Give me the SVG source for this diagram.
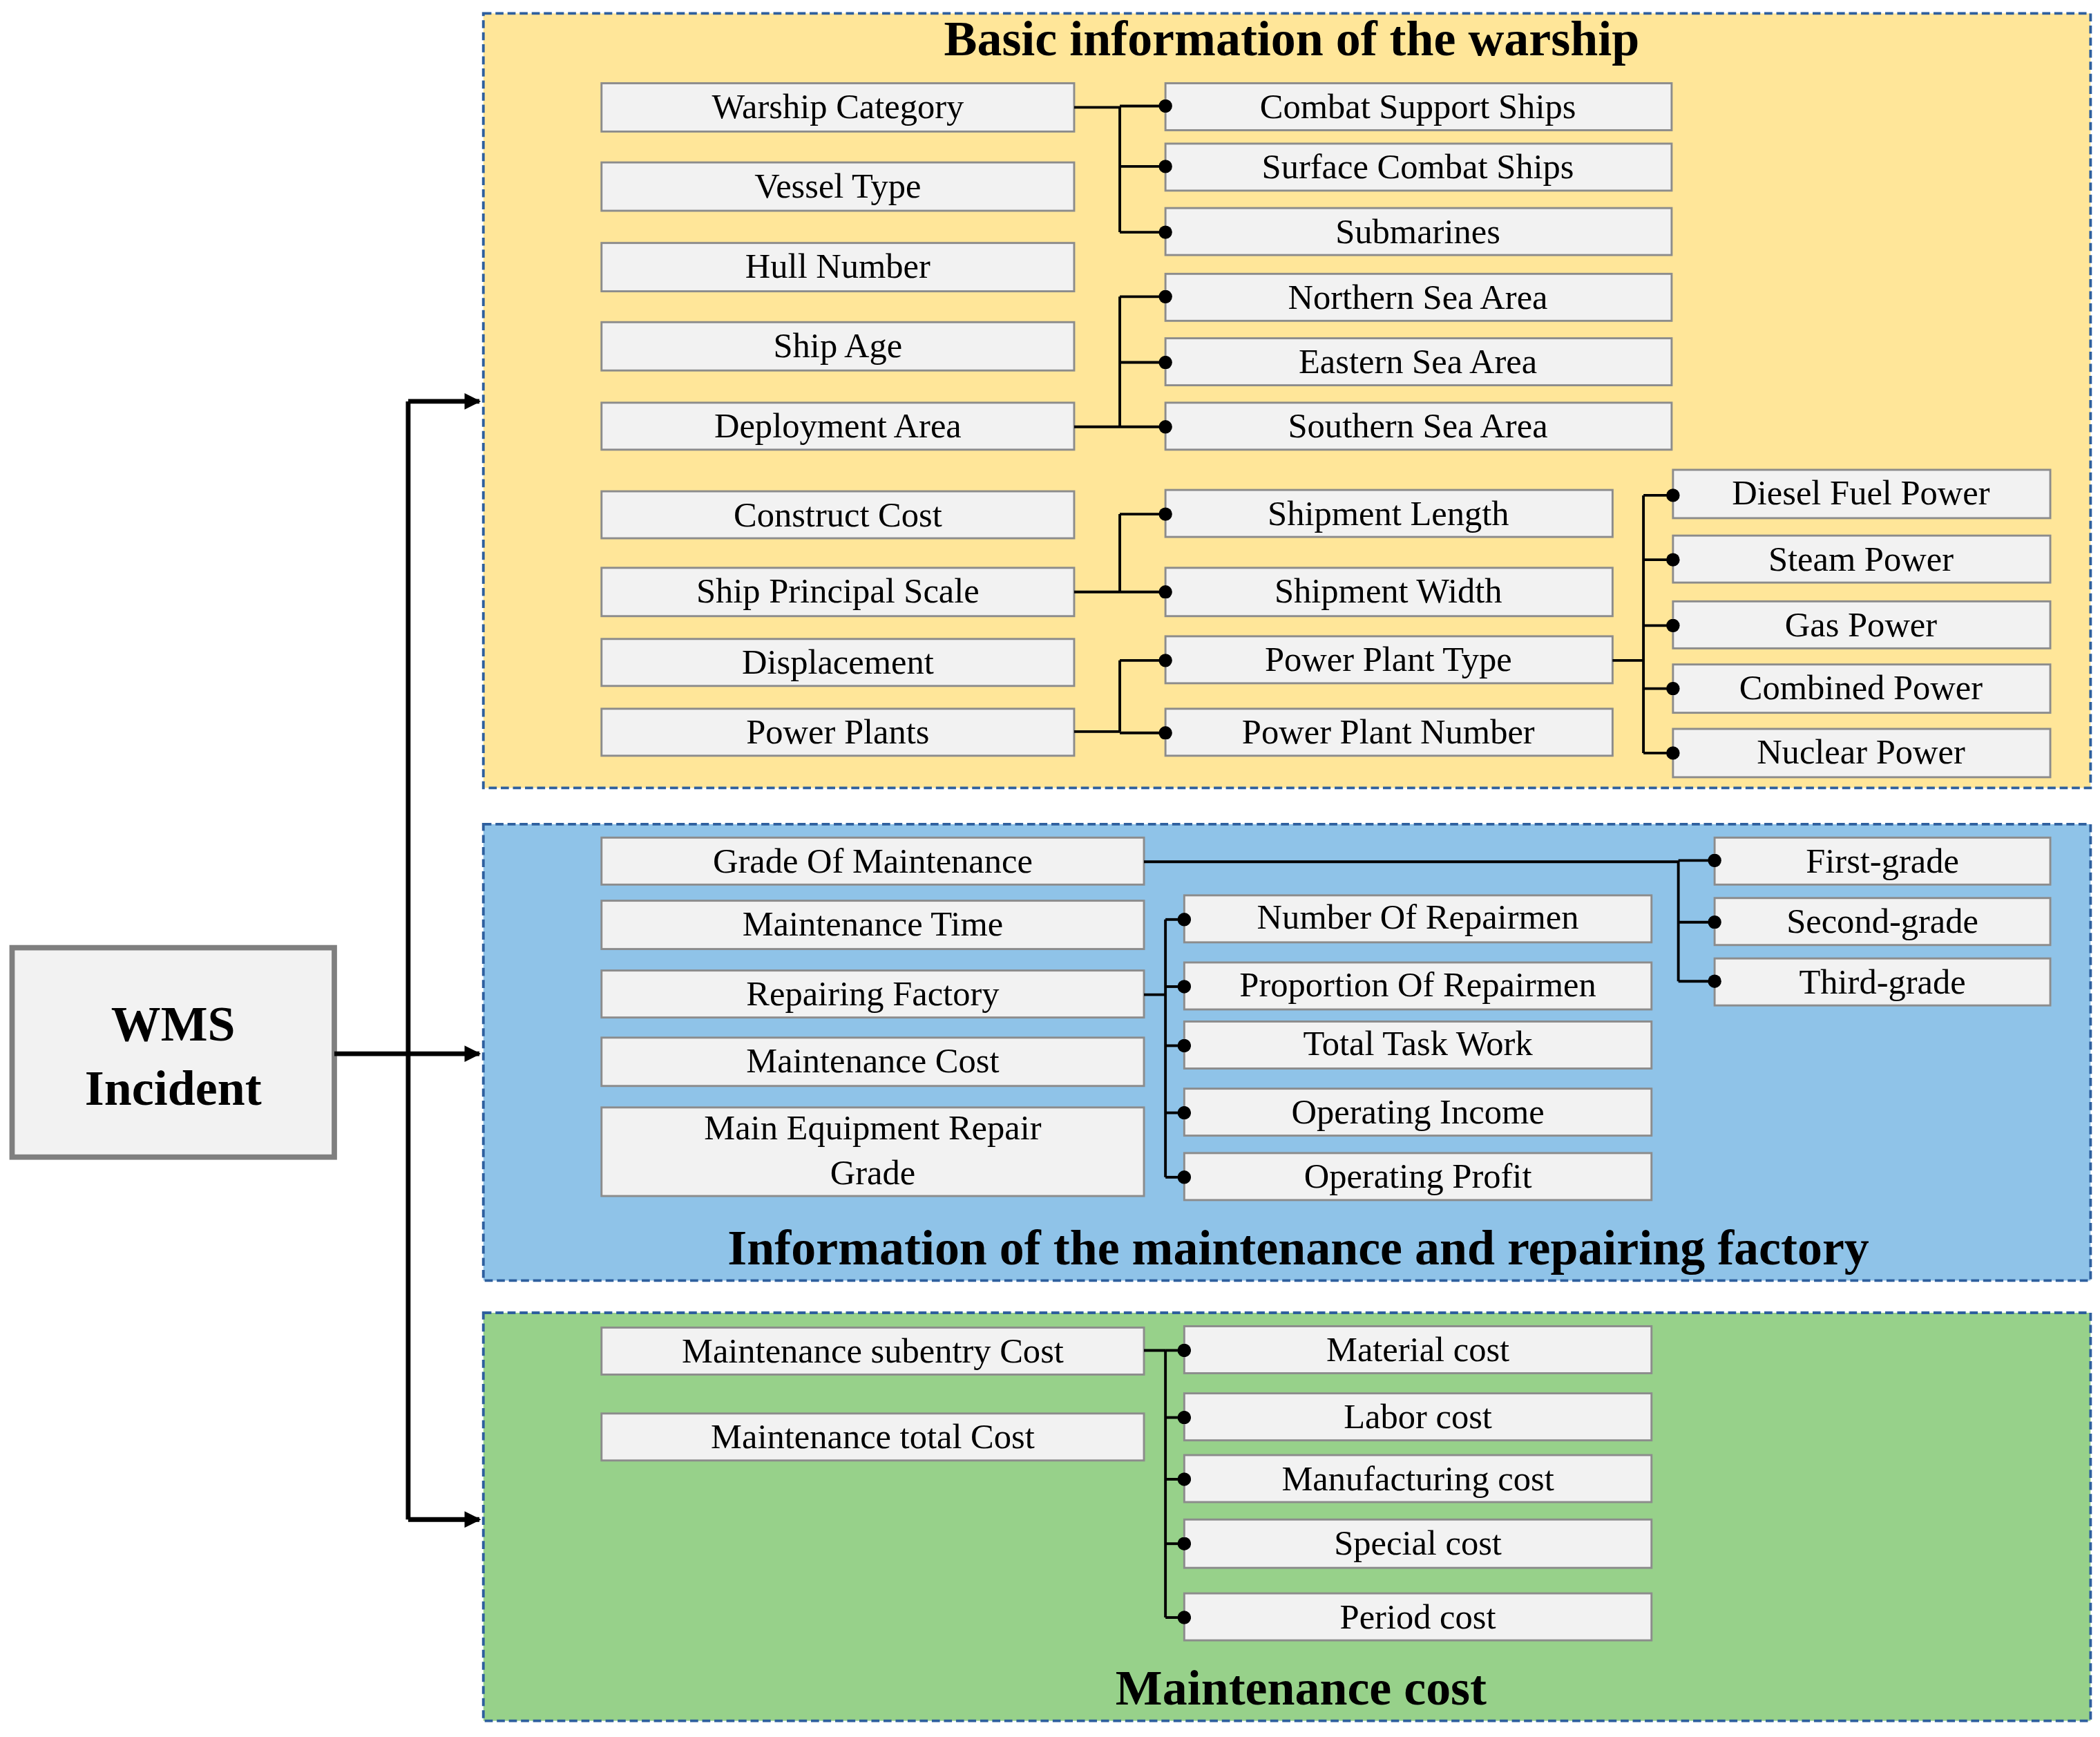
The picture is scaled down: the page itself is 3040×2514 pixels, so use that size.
<svg xmlns="http://www.w3.org/2000/svg" width="3040" height="2514" viewBox="0 0 3040 2514">
<defs>
<style>
.p{stroke:#2e5f9e;stroke-width:2;stroke-dasharray:6 3}
.b{fill:#f2f2f2;stroke:#8c8c8c;stroke-width:1.5}
.t{font-family:"Liberation Serif",serif;font-size:26px;text-anchor:middle;fill:#000}
.h{font-family:"Liberation Serif",serif;font-size:37px;font-weight:bold;text-anchor:middle;fill:#000}
.c{fill:none;stroke:#000;stroke-width:2}
.m{fill:none;stroke:#000;stroke-width:3.5}
</style>
<marker id="dot" viewBox="0 0 10 10" refX="5" refY="5" markerWidth="5" markerHeight="5" markerUnits="strokeWidth"><circle cx="5" cy="5" r="5" fill="#000"/></marker>
<marker id="arr" viewBox="0 0 10 10" refX="9" refY="5" markerWidth="3.5" markerHeight="3.5" orient="auto" markerUnits="strokeWidth"><path d="M0,0 L10,5 L0,10 z" fill="#000"/></marker>
</defs>
<rect width="3040" height="2514" fill="#fff"/>
<g transform="scale(1.9437,1.9428)">
<g id="panels">
<rect x="360" y="10" width="1197" height="577" fill="#ffe699" class="p"/>
<rect x="360" y="614" width="1197" height="340" fill="#8fc3e8" class="p"/>
<rect x="360" y="978" width="1197" height="304" fill="#97d18a" class="p"/>
<text class="h" x="962" y="41">Basic information of the warship</text>
<text class="h" x="967" y="942">Information of the maintenance and repairing factory</text>
<text class="h" x="969" y="1270">Maintenance cost</text>
</g>
<g id="wms">
<rect x="9" y="706" width="240" height="156" fill="#f2f2f2" stroke="#7f7f7f" stroke-width="4"/>
<text class="h" x="129" y="775" font-size="44">WMS</text>
<text class="h" x="129" y="823" font-size="44">Incident</text>
</g>
<g id="nodes">
<g id="n1"><rect class="b" x="448" y="62" width="352" height="36"/><text class="t" x="624" y="88">Warship Category</text></g>
<g id="n2"><rect class="b" x="448" y="121" width="352" height="36"/><text class="t" x="624" y="147">Vessel Type</text></g>
<g id="n3"><rect class="b" x="448" y="181" width="352" height="36"/><text class="t" x="624" y="207">Hull Number</text></g>
<g id="n4"><rect class="b" x="448" y="240" width="352" height="36"/><text class="t" x="624" y="266">Ship Age</text></g>
<g id="n5"><rect class="b" x="448" y="300" width="352" height="35"/><text class="t" x="624" y="326">Deployment Area</text></g>
<g id="n6"><rect class="b" x="448" y="366" width="352" height="35"/><text class="t" x="624" y="392">Construct Cost</text></g>
<g id="n7"><rect class="b" x="448" y="423" width="352" height="36"/><text class="t" x="624" y="449">Ship Principal Scale</text></g>
<g id="n8"><rect class="b" x="448" y="476" width="352" height="35"/><text class="t" x="624" y="502">Displacement</text></g>
<g id="n9"><rect class="b" x="448" y="528" width="352" height="35"/><text class="t" x="624" y="554">Power Plants</text></g>
<g id="n10"><rect class="b" x="868" y="62" width="377" height="35"/><text class="t" x="1056" y="88">Combat Support Ships</text></g>
<g id="n11"><rect class="b" x="868" y="107" width="377" height="35"/><text class="t" x="1056" y="133">Surface Combat Ships</text></g>
<g id="n12"><rect class="b" x="868" y="155" width="377" height="35"/><text class="t" x="1056" y="181">Submarines</text></g>
<g id="n13"><rect class="b" x="868" y="204" width="377" height="35"/><text class="t" x="1056" y="230">Northern Sea Area</text></g>
<g id="n14"><rect class="b" x="868" y="252" width="377" height="35"/><text class="t" x="1056" y="278">Eastern Sea Area</text></g>
<g id="n15"><rect class="b" x="868" y="300" width="377" height="35"/><text class="t" x="1056" y="326">Southern Sea Area</text></g>
<g id="n16"><rect class="b" x="868" y="365" width="333" height="35"/><text class="t" x="1034" y="391">Shipment Length</text></g>
<g id="n17"><rect class="b" x="868" y="423" width="333" height="36"/><text class="t" x="1034" y="449">Shipment Width</text></g>
<g id="n18"><rect class="b" x="868" y="474" width="333" height="35"/><text class="t" x="1034" y="500">Power Plant Type</text></g>
<g id="n19"><rect class="b" x="868" y="528" width="333" height="35"/><text class="t" x="1034" y="554">Power Plant Number</text></g>
<g id="n20"><rect class="b" x="1246" y="350" width="281" height="36"/><text class="t" x="1386" y="376">Diesel Fuel Power</text></g>
<g id="n21"><rect class="b" x="1246" y="399" width="281" height="35"/><text class="t" x="1386" y="425">Steam Power</text></g>
<g id="n22"><rect class="b" x="1246" y="448" width="281" height="35"/><text class="t" x="1386" y="474">Gas Power</text></g>
<g id="n23"><rect class="b" x="1246" y="495" width="281" height="36"/><text class="t" x="1386" y="521">Combined Power</text></g>
<g id="n24"><rect class="b" x="1246" y="543" width="281" height="36"/><text class="t" x="1386" y="569">Nuclear Power</text></g>
<g id="n25"><rect class="b" x="448" y="624" width="404" height="35"/><text class="t" x="650" y="650">Grade Of Maintenance</text></g>
<g id="n26"><rect class="b" x="448" y="671" width="404" height="36"/><text class="t" x="650" y="697">Maintenance Time</text></g>
<g id="n27"><rect class="b" x="448" y="723" width="404" height="35"/><text class="t" x="650" y="749">Repairing Factory</text></g>
<g id="n28"><rect class="b" x="448" y="773" width="404" height="36"/><text class="t" x="650" y="799">Maintenance Cost</text></g>
<g id="n29"><rect class="b" x="448" y="825" width="404" height="66"/><text class="t" x="650" y="849">Main Equipment Repair</text><text class="t" x="650" y="882">Grade</text></g>
<g id="n30"><rect class="b" x="882" y="667" width="348" height="35"/><text class="t" x="1056" y="692">Number Of Repairmen</text></g>
<g id="n31"><rect class="b" x="882" y="717" width="348" height="35"/><text class="t" x="1056" y="742">Proportion Of Repairmen</text></g>
<g id="n32"><rect class="b" x="882" y="761" width="348" height="35"/><text class="t" x="1056" y="786">Total Task Work</text></g>
<g id="n33"><rect class="b" x="882" y="811" width="348" height="35"/><text class="t" x="1056" y="837">Operating Income</text></g>
<g id="n34"><rect class="b" x="882" y="859" width="348" height="35"/><text class="t" x="1056" y="885">Operating Profit</text></g>
<g id="n35"><rect class="b" x="1277" y="624" width="250" height="35"/><text class="t" x="1402" y="650">First-grade</text></g>
<g id="n36"><rect class="b" x="1277" y="669" width="250" height="35"/><text class="t" x="1402" y="695">Second-grade</text></g>
<g id="n37"><rect class="b" x="1277" y="714" width="250" height="35"/><text class="t" x="1402" y="740">Third-grade</text></g>
<g id="n38"><rect class="b" x="448" y="989" width="404" height="35"/><text class="t" x="650" y="1015">Maintenance subentry Cost</text></g>
<g id="n39"><rect class="b" x="448" y="1053" width="404" height="35"/><text class="t" x="650" y="1079">Maintenance total Cost</text></g>
<g id="n40"><rect class="b" x="882" y="988" width="348" height="35"/><text class="t" x="1056" y="1014">Material cost</text></g>
<g id="n41"><rect class="b" x="882" y="1038" width="348" height="35"/><text class="t" x="1056" y="1064">Labor cost</text></g>
<g id="n42"><rect class="b" x="882" y="1084" width="348" height="35"/><text class="t" x="1056" y="1110">Manufacturing cost</text></g>
<g id="n43"><rect class="b" x="882" y="1132" width="348" height="36"/><text class="t" x="1056" y="1158">Special cost</text></g>
<g id="n44"><rect class="b" x="882" y="1187" width="348" height="35"/><text class="t" x="1056" y="1213">Period cost</text></g>
</g>
<g id="connectors">
<path class="m" d="M249,785 H304 M304,299 V1132"/>
<path class="m" d="M304,299 H357" marker-end="url(#arr)"/>
<path class="m" d="M304,785 H357" marker-end="url(#arr)"/>
<path class="m" d="M304,1132 H357" marker-end="url(#arr)"/>
<path class="c" d="M800,80 H834 M834,79 V173 M800,318 H834 M834,221 V318 M800,441 H834 M834,383 V441 M800,545 H834 M834,492 V545 M1201,492 H1224 M1224,369 V561 M852,642 H1250 M1250,641 V731 M852,741 H868 M868,685 V877 M852,1006 H868 M868,1006 V1205"/>
<g marker-end="url(#dot)" class="c">
<path d="M834,79 H868"/><path d="M834,124 H868"/><path d="M834,173 H868"/>
<path d="M834,221 H868"/><path d="M834,270 H868"/><path d="M834,318 H868"/>
<path d="M834,383 H868"/><path d="M834,441 H868"/><path d="M834,492 H868"/><path d="M834,546 H868"/>
<path d="M1224,369 H1246"/><path d="M1224,417 H1246"/><path d="M1224,466 H1246"/><path d="M1224,513 H1246"/><path d="M1224,561 H1246"/>
<path d="M1250,641 H1277"/><path d="M1250,687 H1277"/><path d="M1250,731 H1277"/>
<path d="M868,685 H882"/><path d="M868,735 H882"/><path d="M868,779 H882"/><path d="M868,829 H882"/><path d="M868,877 H882"/>
<path d="M868,1006 H882"/><path d="M868,1056 H882"/><path d="M868,1102 H882"/><path d="M868,1150 H882"/><path d="M868,1205 H882"/>
</g>
</g>
</g>
</svg>
